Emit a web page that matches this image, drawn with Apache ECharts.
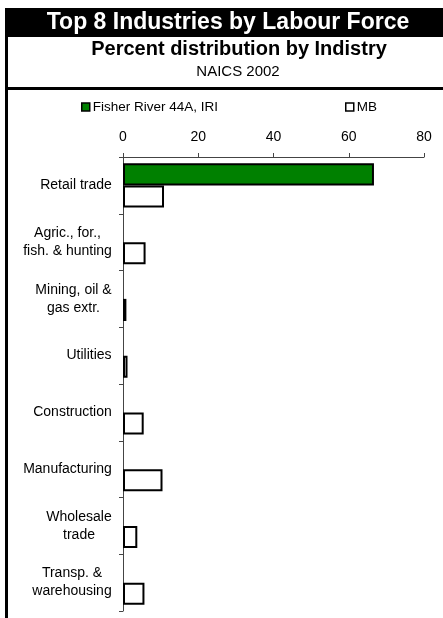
<!DOCTYPE html>
<html>
<head>
<meta charset="utf-8">
<script src="https://cdn.jsdelivr.net/npm/echarts@6/dist/echarts.min.js"></script>
<style>
html,body{margin:0;padding:0;background:#fff;}
#chart{width:443px;height:618px;}
</style>
</head>
<body>
<div id="chart"></div>
<script>
const categories = ['Retail trade','Agric., for.,\nfish. & hunting','Mining, oil &\ngas extr.','Utilities','Construction','Manufacturing','Wholesale\ntrade','Transp. &\nwarehousing'];
const fisherRiver = [66.7, 0, 0, 0, 0, 0, 0, 0];
const mb = [10.9, 6.0, 0.9, 1.2, 5.5, 10.5, 3.8, 5.7];
const xTicks = [0, 20, 40, 60, 80];

const FONT = 'Liberation Sans, Arial, sans-serif';
const LABEL_SIZE = 14;

// measure each category label's widest line so multi-line labels can be centred
const ctx = document.createElement('canvas').getContext('2d');
ctx.font = LABEL_SIZE + 'px ' + FONT;
const rich = {};
categories.forEach((c, i) => {
  const w = Math.max(...c.split('\n').map(l => ctx.measureText(l).width));
  rich['c' + i] = {width: Math.ceil(w), align: 'center', fontSize: LABEL_SIZE, lineHeight: 18, color: '#000', fontFamily: FONT};
});

function barData(arr) {
  return arr.map(v => v === 0 ? {value: v, itemStyle: {borderWidth: 0}} : v);
}

const chart = echarts.init(document.getElementById('chart'));
chart.setOption({
  animation: false,
  backgroundColor: '#fff',
  textStyle: {fontFamily: FONT},
  graphic: [
    {type: 'rect', shape: {x: 5, y: 8, width: 438, height: 29}, style: {fill: '#000'}, silent: true},
    {type: 'rect', shape: {x: 5, y: 8, width: 3, height: 610}, style: {fill: '#000'}, silent: true},
    {type: 'rect', shape: {x: 5, y: 87, width: 438, height: 3}, style: {fill: '#000'}, silent: true},
    {type: 'text', style: {text: 'Top 8 Industries by Labour Force', x: 228, y: 23, align: 'center', verticalAlign: 'middle', fill: '#fff', font: 'bold 23px ' + FONT}},
    {type: 'text', style: {text: 'Percent distribution by Indistry', x: 239, y: 49, align: 'center', verticalAlign: 'middle', fill: '#000', font: 'bold 20px ' + FONT}},
    {type: 'text', style: {text: 'NAICS 2002', x: 238, y: 72, align: 'center', verticalAlign: 'middle', fill: '#000', font: '15px ' + FONT}}
  ],
  legend: [
    {data: ['Fisher River 44A, IRI'], icon: 'rect', left: 81, top: 100, itemWidth: 8, itemHeight: 8, itemGap: 0, padding: 0, itemStyle: {borderWidth: 1.5, borderColor: '#000'}, textStyle: {fontSize: 13.5, color: '#000', fontFamily: FONT, padding: [0, 0, 0, -2]}},
    {data: ['MB'], icon: 'rect', left: 345, top: 100, itemWidth: 8, itemHeight: 8, itemGap: 0, padding: 0, itemStyle: {borderWidth: 1.5, borderColor: '#000'}, textStyle: {fontSize: 13.5, color: '#000', fontFamily: FONT, padding: [0, 0, 0, -2]}}
  ],
  grid: {left: 123, right: 19, top: 157, bottom: 7, containLabel: false},
  xAxis: {
    type: 'value', position: 'top', min: xTicks[0], max: xTicks[xTicks.length - 1], interval: 20,
    axisLine: {show: true, lineStyle: {color: '#444', width: 1}},
    axisTick: {show: true, length: 4, lineStyle: {color: '#444'}},
    axisLabel: {fontSize: 14, color: '#000', margin: 13, fontFamily: FONT},
    splitLine: {show: false}
  },
  yAxis: {
    type: 'category', inverse: true, data: categories,
    axisLine: {show: true, lineStyle: {color: '#444', width: 1}},
    axisTick: {show: true, length: 4, lineStyle: {color: '#444'}},
    axisLabel: {
      margin: 11, align: 'right', fontSize: LABEL_SIZE, lineHeight: 18, color: '#000', fontFamily: FONT,
      formatter: (value, index) => value.split('\n').map(l => '{c' + index + '|' + l + '}').join('\n'),
      rich: rich
    }
  },
  series: [
    {name: 'Fisher River 44A, IRI', type: 'bar', data: barData(fisherRiver), barGap: '0%', barCategoryGap: '22%',
     itemStyle: {color: '#008000', borderColor: '#000', borderWidth: 2}},
    {name: 'MB', type: 'bar', data: barData(mb), barGap: '0%', barCategoryGap: '22%',
     itemStyle: {color: '#fff', borderColor: '#000', borderWidth: 2}}
  ]
});
</script>
</body>
</html>
